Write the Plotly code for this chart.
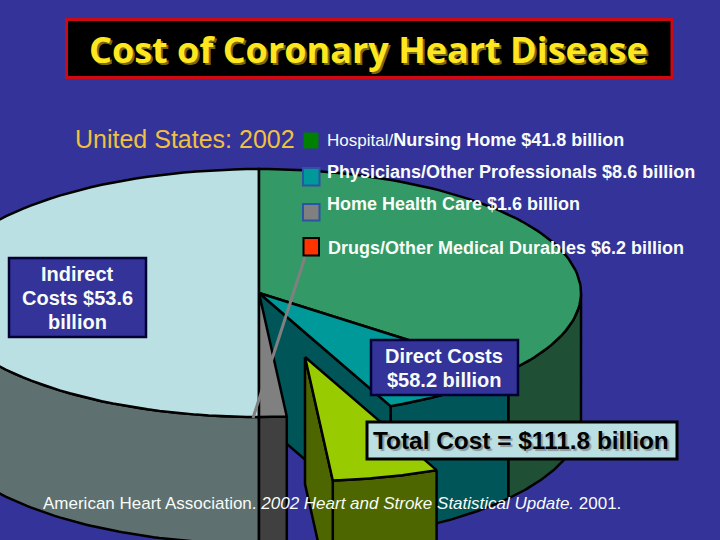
import math
import plotly.graph_objects as go

# ---- data ----
direct_labels = ["Hospital/Nursing Home", "Physicians/Other Professionals", "Drugs/Other Medical Durables", "Home Health Care"]
direct_values = [41.8, 8.6, 6.2, 1.6]
indirect_value = 53.6
top_colors = ["#339966", "#009999", "#99CC00", "#808080"]
wall_colors = ["#1F5035", "#005558", "#4D6600", "#404040"]
indirect_top = "#BBE0E3"
indirect_wall = "#5F7070"
void_wall = "#005558"
bg = "#333399"

# ---- geometry of the drawing ----
CX, CY, RX, RY, DEPTH = 259, 293, 322, 124, 127
EXPLODE = (46, 64)
INK = "#000000"
LW = 2.5


def pt(t, off=0, shift=(0, 0)):
    r = math.radians(t)
    return (CX + RX * math.sin(r) + shift[0], CY - RY * math.cos(r) + off + shift[1])


def arc(a, b, off=0, shift=(0, 0), n=80):
    return [pt(a + (b - a) * i / n, off, shift) for i in range(n + 1)]


def poly(points, fill):
    xs = [p[0] for p in points] + [points[0][0]]
    ys = [p[1] for p in points] + [points[0][1]]
    return go.Scatter(x=xs, y=ys, mode="lines", fill="toself", fillcolor=fill,
                      line=dict(color=INK, width=LW), hoverinfo="skip", showlegend=False)


# each half of the tilted pie: the direct costs fill one half, the indirect costs the other
total_direct = sum(direct_values)
edges = [0.0]
for v in direct_values:
    edges.append(edges[-1] + v / total_direct * 180.0)
indirect_span = indirect_value / indirect_value * 180.0

fig = go.Figure()

# outer walls, back to front
fig.add_trace(poly(arc(180, 180 + indirect_span / 2) + arc(180 + indirect_span / 2, 180, DEPTH), indirect_wall))
fig.add_trace(poly(arc(90, edges[1]) + arc(edges[1], 90, DEPTH), wall_colors[0]))
fig.add_trace(poly(arc(edges[1], edges[2]) + arc(edges[2], edges[1], DEPTH), wall_colors[1]))
# inner wall exposed by the pulled-out slice
fig.add_trace(poly([(CX, CY), pt(edges[2]), pt(edges[2], DEPTH), (CX, CY + DEPTH)], void_wall))
# home health wall
fig.add_trace(poly(arc(edges[3], edges[4]) + arc(edges[4], edges[3], DEPTH), wall_colors[3]))

# top faces
fig.add_trace(poly([(CX, CY)] + arc(180, 360), indirect_top))
fig.add_trace(poly([(CX, CY)] + arc(edges[0], edges[1]), top_colors[0]))
fig.add_trace(poly([(CX, CY)] + arc(edges[1], edges[2]), top_colors[1]))
fig.add_trace(poly([(CX, CY)] + arc(edges[3], edges[4]), top_colors[3]))

# exploded slice
apex = (CX + EXPLODE[0], CY + EXPLODE[1])
fig.add_trace(poly(arc(edges[2], edges[3], 0, EXPLODE) + arc(edges[3], edges[2], DEPTH, EXPLODE), wall_colors[2]))
fig.add_trace(poly([apex, pt(edges[3], 0, EXPLODE), pt(edges[3], DEPTH, EXPLODE), (apex[0], apex[1] + DEPTH)], wall_colors[2]))
fig.add_trace(poly([apex] + arc(edges[2], edges[3], 0, EXPLODE), top_colors[2]))


def box(x0, y0, x1, y1, fill, line, w):
    return dict(type="rect", xref="x", yref="y", x0=x0, y0=y0, x1=x1, y1=y1,
                fillcolor=fill, line=dict(color=line, width=w), layer="above")


shapes = [
    box(66.5, 19.5, 672, 77.5, "#000000", "#CC0A14", 3),
    box(9, 258, 146, 337, bg, "#000033", 2.5),
    box(371, 340, 518, 395, bg, "#000033", 2.5),
    box(367, 422, 677, 459, indirect_top, "#000000", 3),
    box(304, 133, 318, 148, "#008000", "#008000", 1),
    box(303, 168, 319.5, 185.5, "#009999", "#2A55A5", 2),
    box(303, 204, 319.5, 220.5, "#808080", "#2A55A5", 2),
    box(303.5, 238, 319, 255.5, "#FF3300", "#000000", 2),
    dict(type="line", xref="x", yref="y", x0=305, y0=257, x1=253, y1=418,
         line=dict(color="#808080", width=3), layer="above"),
]


def label(x, y, text, size, color, anchor="left", shadow=None, family="Liberation Sans"):
    font = dict(family=family, size=size, color=color)
    if shadow:
        font["shadow"] = shadow
    return dict(x=x, y=y, xref="x", yref="y", text=text, showarrow=False, xanchor=anchor,
                yanchor="middle", align="center" if anchor == "center" else "left", font=font)


WHITE = "#F8FCF8"
annotations = [
    label(368, 49, "<b>Cost of Coronary Heart Disease</b>", 36, "#FFE61E", "center", "2px 2px 0 #7A6A10", "Open Sans"),
    label(72.5, 139, "United States: 2002", 25, "#F0C040"),
    label(325, 140, "<span style='font-size:17px'>Hospital/</span><b>Nursing Home $41.8 billion</b>", 18, WHITE),
    label(325, 172, "<b>Physicians/Other Professionals $8.6 billion</b>", 18, WHITE),
    label(325, 204, "<b>Home Health Care $1.6 billion</b>", 18, WHITE),
    label(326, 248, "<b>Drugs/Other Medical Durables $6.2 billion</b>", 18, WHITE),
    label(77.5, 274, "<b>Indirect</b>", 20, WHITE, "center"),
    label(77.5, 298, "<b>Costs $53.6</b>", 20, WHITE, "center"),
    label(77.5, 322, "<b>billion</b>", 20, WHITE, "center"),
    label(444, 356, "<b>Direct Costs</b>", 20, WHITE, "center"),
    label(444, 380, "<b>$58.2 billion</b>", 20, WHITE, "center"),
    label(520.5, 440, "<b>Total Cost = $111.8 billion</b>", 24.4, "#000000", "center", "2px 2px 1px #8A9A9C"),
    label(40.5, 503, "American Heart Association. <i>2002 Heart and Stroke Statistical Update.</i> 2001.", 17, WHITE),
]

fig.update_layout(
    width=720, height=540, margin=dict(l=0, r=0, t=0, b=0), autosize=False,
    paper_bgcolor=bg, plot_bgcolor=bg, showlegend=False,
    xaxis=dict(range=[0, 720], visible=False, fixedrange=True),
    yaxis=dict(range=[540, 0], visible=False, fixedrange=True),
    shapes=shapes, annotations=annotations,
)
fig.write_html("out.html", config={"displayModeBar": False},
               post_script="document.body.style.margin='0';document.body.style.background='#333399';document.body.style.overflow='hidden';")
